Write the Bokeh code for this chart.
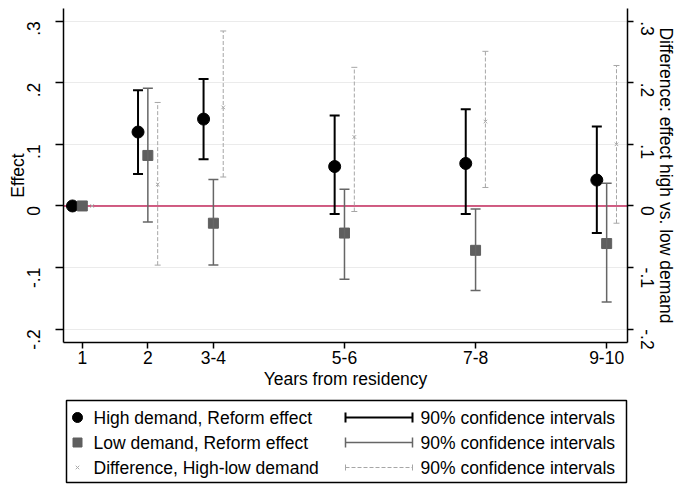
import numpy as np
from bokeh.plotting import figure
from bokeh.layouts import column
from bokeh.core.properties import value
from bokeh.models import (ColumnDataSource, Range1d, LinearAxis, FixedTicker,
                          CustomJSTickFormatter, Whisker, TeeHead, Span)
from bokeh.transform import dodge
from bokeh.embed import file_html
from bokeh.resources import INLINE

# Periods (years from residency), placed on a numeric axis at their first year
period_labels = ["1", "2", "3-4", "5-6", "7-8", "9-10"]
period_pos = [1, 2, 3, 5, 7, 9]

# High demand, reform effect (estimate and 90% CI)
high_est = [0.0, 0.120, 0.141, 0.064, 0.069, 0.042]
high_lo = [np.nan, 0.052, 0.076, -0.013, -0.013, -0.044]
high_hi = [np.nan, 0.188, 0.206, 0.147, 0.157, 0.129]

# Low demand, reform effect
low_est = [0.0, 0.082, -0.028, -0.044, -0.072, -0.061]
low_lo = [np.nan, -0.026, -0.096, -0.119, -0.137, -0.156]
low_hi = [np.nan, 0.191, 0.043, 0.027, -0.005, 0.037]

# Difference, high - low demand
diff_est = [0.0, 0.035, 0.160, 0.112, 0.137, 0.100]
diff_lo = [np.nan, -0.096, 0.047, -0.009, 0.030, -0.028]
diff_hi = [np.nan, 0.168, 0.284, 0.225, 0.251, 0.228]

y_ticks = [-0.2, -0.1, 0.0, 0.1, 0.2, 0.3]

legend_labels = ["High demand, Reform effect", "Low demand, Reform effect",
                 "Difference, High-low demand"]
ci_label = "90% confidence intervals"

FONT = "Liberation Sans"
FS = "17.5px"

src = ColumnDataSource(dict(
    x=period_pos,
    high=high_est, high_lo=high_lo, high_hi=high_hi,
    low=low_est, low_lo=low_lo, low_hi=low_hi,
    diff=diff_est, diff_lo=diff_lo, diff_hi=diff_hi,
))

p = figure(width=678, height=392,
           x_range=Range1d(0.713, 9.318), y_range=Range1d(-0.2216, 0.3205),
           output_backend="svg", toolbar_location=None,
           min_border_left=63, min_border_right=46, min_border_top=8,
           min_border_bottom=50, outline_line_color=None,
           background_fill_color="white", border_fill_color="white")
p.frame_align = False

yfmt = CustomJSTickFormatter(code="""
    const s = (Math.round(tick * 10) / 10).toString();
    return s.replace(/^(-?)0\\./, '$1.');
""")

# x axis
xa = p.xaxis[0]
xa.ticker = FixedTicker(ticks=period_pos)
xa.major_label_overrides = {pos: lab for pos, lab in zip(period_pos, period_labels)}
xa.axis_label = "Years from residency"

# left axis
ya = p.yaxis[0]
ya.ticker = FixedTicker(ticks=y_ticks)
ya.formatter = yfmt
ya.axis_label = "Effect"
ya.major_label_orientation = np.pi / 2

# right axis
ra = LinearAxis(ticker=FixedTicker(ticks=y_ticks), formatter=yfmt,
                axis_label="Difference: effect high vs. low demand")
ra.major_label_orientation = -np.pi / 2
p.add_layout(ra, "right")

for ax in [xa, ya, ra]:
    ax.axis_line_color = "black"
    ax.axis_line_width = 1.5
    ax.major_tick_line_color = "black"
    ax.major_tick_line_width = 1.5
    ax.major_tick_out = 6
    ax.major_tick_in = 0
    ax.minor_tick_line_color = None
    ax.major_label_text_font = FONT
    ax.major_label_text_font_size = FS
    ax.major_label_text_color = "black"
    ax.axis_label_text_font = FONT
    ax.axis_label_text_font_size = FS
    ax.axis_label_text_font_style = "normal"
    ax.axis_label_text_color = "black"
    ax.major_label_standoff = 2
    ax.axis_label_standoff = 2
ya.major_tick_out = 8
ya.major_label_standoff = 22
ya.axis_label_standoff = -10
ra.major_label_standoff = 14
ra.axis_label_standoff = -8

p.xgrid.grid_line_color = None
p.ygrid.ticker = FixedTicker(ticks=y_ticks)
p.ygrid.grid_line_color = "#ebebeb"
p.ygrid.grid_line_width = 1

p.add_layout(Span(location=0, dimension="width", line_color="#c42a5c",
                  line_width=1.5, level="underlay"))

# confidence intervals
def ci(lo, hi, offset, color, width, cap, dash="solid"):
    head = dict(size=cap, line_color=color, line_width=width)
    w = Whisker(source=src, base=dodge("x", offset), lower=lo, upper=hi,
                dimension="height", line_color=color, line_width=width,
                line_dash=dash, upper_head=TeeHead(**head),
                lower_head=TeeHead(**head), level="glyph")
    p.add_layout(w)

ci("diff_lo", "diff_hi", 0.15, "#a6a6a6", 1, 6, "4 2")
ci("low_lo", "low_hi", 0.0, "#666666", 1.5, 10)
ci("high_lo", "high_hi", -0.15, "black", 2, 10)

p.scatter(x=dodge("x", -0.15), y="high", source=src, marker="circle",
          size=12, color="black")
p.scatter(x=dodge("x", 0.0), y="low", source=src, marker="square",
          size=10, color="#5f5f5f")
p.scatter(x=dodge("x", 0.15), y="diff", source=src, marker="x",
          size=5, line_color="#aaaaaa", line_width=1)

# legend panel below the plot, laid out in pixel coordinates
lf = figure(width=678, height=92, x_range=Range1d(0, 678), y_range=Range1d(92, 0),
            output_backend="svg", toolbar_location=None,
            min_border_left=0, min_border_right=0, min_border_top=0,
            min_border_bottom=0,
            x_axis_location=None, y_axis_location=None,
            outline_line_color=None, border_fill_color="white")
lf.frame_align = False
lf.grid.grid_line_color = None

row_y = [25, 50, 75]
lf.quad(left=[66], right=[626], top=[8], bottom=[90], fill_color=None,
        line_color="black", line_width=1.5)

lf.scatter(x=[77], y=[row_y[0]], marker="circle", size=10, color="black")
lf.scatter(x=[77], y=[row_y[1]], marker="square", size=9, color="#5f5f5f")
lf.scatter(x=[77], y=[row_y[2]], marker="x", size=5, line_color="#aaaaaa")

lf.text(x=[93] * 3, y=row_y, text=legend_labels, text_font=value(FONT),
        text_font_size=FS, text_baseline="middle", text_color="black")
lf.text(x=[420] * 3, y=row_y, text=[ci_label] * 3, text_font=value(FONT),
        text_font_size=FS, text_baseline="middle", text_color="black")

styles = [("black", 2, "solid", 10), ("#666666", 1.5, "solid", 10),
          ("#a6a6a6", 1, "4 2", 6)]
for i, (c, w, d, cap) in enumerate(styles):
    s = ColumnDataSource(dict(y=[row_y[i]], lo=[345], hi=[412]))
    head = dict(size=cap, line_color=c, line_width=w)
    lf.add_layout(Whisker(source=s, base="y", lower="lo", upper="hi",
                          dimension="width", line_color=c, line_width=w,
                          line_dash=d, upper_head=TeeHead(**head),
                          lower_head=TeeHead(**head)))

layout = column(p, lf, spacing=0)
open("out.html", "w").write(file_html(layout, INLINE))
